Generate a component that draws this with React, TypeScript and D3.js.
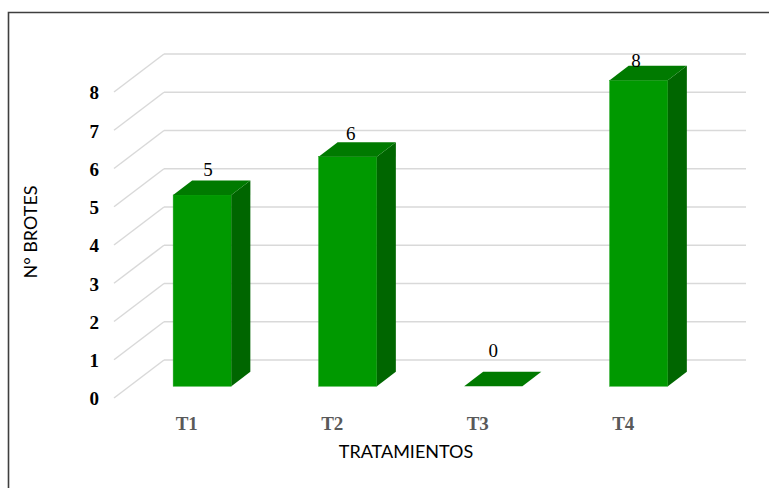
import React from "react";
import * as d3 from "d3";

const categories = ["T1", "T2", "T3", "T4"];
const values = [5, 6, 0, 8];
const yTicks = [0, 1, 2, 3, 4, 5, 6, 7, 8];
const yTitle = "N° BROTES";
const xTitle = "TRATAMIENTOS";

const W = 769;
const H = 488;

// front plane of the 3D box
const FRONT_LEFT = 114;
const FRONT_RIGHT = 696;
const FRONT_BOTTOM = 398;
const FRONT_TOP = 92;
// depth of the floor (oblique projection)
const DEPTH_DX = 50;
const DEPTH_DY = 38;
// bar depth occupies this fraction range of the floor depth
const BAR_D0 = 0.31;
const BAR_D1 = 0.69;
const BAR_W_FRAC = 0.4;

const SERIF = "'Liberation Serif', 'Times New Roman', serif";
const SANS = "Lato, Carlito, Calibri, 'Open Sans', sans-serif";

export default function App() {
  const x = d3.scaleBand<string>().domain(categories).range([FRONT_LEFT, FRONT_RIGHT]).padding(0);
  const y = d3.scaleLinear().domain([0, 8]).range([FRONT_BOTTOM, FRONT_TOP]);
  const step = x.step();
  const bw = step * BAR_W_FRAC;

  // label placement (Excel 3D label projection)
  const labelX = d3.scaleLinear().domain([0, categories.length - 1]).range([208, 636]);
  const labelY = d3.scaleLinear().domain([0, 8]).range([351, 61]);

  const ox0 = BAR_D0 * DEPTH_DX;
  const oy0 = BAR_D0 * DEPTH_DY;
  const bdx = (BAR_D1 - BAR_D0) * DEPTH_DX;
  const bdy = (BAR_D1 - BAR_D0) * DEPTH_DY;

  const pts = (p: [number, number][]) => p.map((q) => q.join(",")).join(" ");

  return (
    <svg
      width={W}
      height={H}
      style={{ position: "absolute", left: 0, top: 0, background: "#fff" }}
    >
      <rect x={0} y={0} width={W} height={H} fill="#fff" />
      {/* chart border */}
      <path d={`M8.5,${H + 5} L8.5,12.5 L${W + 5},12.5`} fill="none" stroke="#3f3f3f" strokeWidth={1.6} />

      {/* gridlines: left wall diagonals + back wall */}
      {yTicks.map((t) => (
        <g key={t}>
          <line
            x1={FRONT_LEFT}
            y1={y(t)}
            x2={FRONT_LEFT + DEPTH_DX}
            y2={y(t) - DEPTH_DY}
            stroke="#d9d9d9"
            strokeWidth={1.5}
          />
          <line
            x1={FRONT_LEFT + DEPTH_DX}
            y1={y(t) - DEPTH_DY}
            x2={FRONT_RIGHT + DEPTH_DX}
            y2={y(t) - DEPTH_DY}
            stroke="#d9d9d9"
            strokeWidth={1.5}
          />
        </g>
      ))}

      {/* y tick labels */}
      {yTicks.map((t) => (
        <text
          key={"yt" + t}
          x={99}
          y={y(t) + 1}
          dy="0.34em"
          textAnchor="end"
          fontFamily={SERIF}
          fontWeight="bold"
          fontSize={19}
          fill="#000"
        >
          {t}
        </text>
      ))}

      {/* bars */}
      {categories.map((c, i) => {
        const v = values[i];
        const xl = (x(c) as number) + (step - bw) / 2 + ox0;
        const xr = xl + bw;
        const yb = y(0) - oy0;
        const yt = y(v) - oy0;
        return (
          <g key={c}>
            {v > 0 && (
              <rect x={xl} y={yt} width={bw} height={yb - yt} fill="#009900" stroke="#1aa31a" strokeWidth={0.5} />
            )}
            {v > 0 && (
              <polygon
                points={pts([
                  [xr, yt],
                  [xr + bdx, yt - bdy],
                  [xr + bdx, yb - bdy],
                  [xr, yb],
                ])}
                fill="#006600"
              />
            )}
            <polygon
              points={pts([
                [xl, yt],
                [xr, yt],
                [xr + bdx, yt - bdy],
                [xl + bdx, yt - bdy],
              ])}
              fill="#007a00"
            />
          </g>
        );
      })}

      {/* data labels */}
      {categories.map((c, i) => (
        <text
          key={"dl" + c}
          x={labelX(i)}
          y={labelY(values[i])}
          dy="0.34em"
          textAnchor="middle"
          fontFamily={SERIF}
          fontSize={19}
          fill="#000"
        >
          {values[i]}
        </text>
      ))}

      {/* category labels */}
      {categories.map((c) => (
        <text
          key={"cl" + c}
          x={(x(c) as number) + step / 2}
          y={430}
          textAnchor="middle"
          fontFamily={SERIF}
          fontWeight="bold"
          fontSize={19}
          fill="#595959"
        >
          {c}
        </text>
      ))}

      {/* axis titles */}
      <text
        x={406}
        y={458}
        textAnchor="middle"
        fontFamily={SANS}
        fontSize={18}
        fill="#000"
      >
        {xTitle}
      </text>
      <text
        transform={`translate(37,232) rotate(-90)`}
        textAnchor="middle"
        fontFamily={SANS}
        fontSize={18}
        fill="#000"
      >
        {yTitle}
      </text>
    </svg>
  );
}
